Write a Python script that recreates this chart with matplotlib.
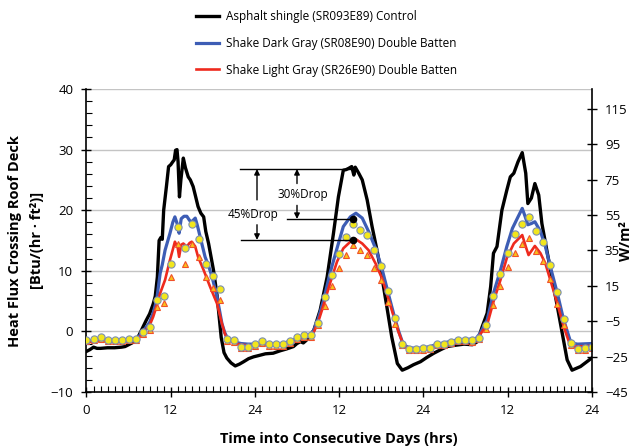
import matplotlib
matplotlib.use("Agg")
import matplotlib.pyplot as plt
from matplotlib.ticker import FixedLocator, FixedFormatter, MultipleLocator

plt.rcParams['font.family'] = ['Open Sans', 'DejaVu Sans']

# ---------------- data ----------------
series_labels = ["Asphalt shingle (SR093E89) Control",
                 "Shake Dark Gray (SR08E90) Double Batten",
                 "Shake Light Gray (SR26E90) Double Batten"]

black_t = [0, 0.5, 1, 1.5, 2, 3, 4, 5, 5.5, 6, 6.5, 7, 7.5, 8, 8.5, 9, 9.5, 9.8, 10.1, 10.35, 10.6, 10.8,
           11.0, 11.4, 11.7, 12.0, 12.3, 12.5, 12.7, 12.9, 13.05, 13.25, 13.45, 13.8, 14.1, 14.5, 14.8,
           15.2, 15.5, 15.9, 16.3, 16.7, 17.0, 17.4, 18.1, 18.6, 18.9, 19.2, 19.6, 20.0, 20.6, 21.2,
           21.8, 22.4, 23.1, 23.8, 24.5, 25.5, 26.6, 27.6, 28.5, 29.5, 30.0, 30.5, 30.9, 31.3, 31.9,
           32.4, 33.3, 34.3, 35.2, 35.9, 36.6, 37.0, 37.35, 37.8, 38.1, 38.3, 38.8, 39.3, 40.0, 40.7,
           41.4, 42.1, 42.8, 43.5, 44.3, 45.0, 45.8, 46.6, 47.6, 48.5, 49.5, 50.5, 51.4, 52.5, 53.8,
           55.0, 55.7, 56.4, 57.1, 57.6, 58.0, 58.5, 59.2, 59.9, 60.4, 60.9, 61.5, 62.1, 62.6, 62.9,
           63.4, 63.9, 64.45, 64.9, 65.6, 66.4, 67.1, 67.8, 68.5, 69.2, 70.4, 72.0]
black_v = [-3.3, -3.0, -2.6, -2.8, -2.8, -2.7, -2.7, -2.6, -2.5, -2.2, -1.9, -1.5, -0.6, 0.6, 1.8, 2.9,
           4.5, 5.8, 9.0, 15.0, 15.5, 15.2, 20.0, 24.0, 27.2, 27.5, 28.0, 28.3, 29.9, 30.0, 28.0, 22.2,
           25.0, 28.6, 27.0, 25.5, 25.0, 23.9, 22.5, 20.6, 19.5, 18.9, 16.5, 14.5, 10.1, 6.0, 2.5,
           -1.0, -3.5, -4.4, -5.2, -5.7, -5.4, -5.0, -4.5, -4.2, -4.0, -3.7, -3.6, -3.2, -2.9, -2.5,
           -2.0, -1.7, -1.9, -1.5, -0.6, 0.2, 3.5, 9.0, 16.2, 22.2, 26.6, 26.7, 26.9, 27.2, 25.8,
           27.1, 26.1, 25.0, 21.7, 17.3, 13.4, 9.0, 4.1, -0.9, -5.3, -6.4, -6.0, -5.5, -5.0, -4.3,
           -3.6, -3.0, -2.5, -2.3, -2.1, -2.2, -1.7, 0.8, 3.0, 7.4, 12.9, 14.0, 20.0, 23.3, 25.5,
           26.1, 28.0, 29.5, 26.1, 21.1, 22.0, 24.4, 22.5, 17.8, 13.4, 8.5, 4.1, -0.3, -4.7, -6.4,
           -5.8, -4.4]

blue_t = [0, 1, 2, 3, 4, 5, 6, 7, 7.5, 8, 8.5, 9, 9.5, 10, 10.5, 10.8, 11.2, 11.6, 11.9, 12.3, 12.6,
          13.0, 13.2, 13.5, 13.9, 14.3, 14.7, 15.0, 15.5, 15.8, 16.2, 16.9, 17.4, 17.9, 18.6, 19.0,
          19.3, 19.7, 20.0, 20.5, 21, 22, 23, 24, 25, 26, 27, 28, 29, 30, 31, 32, 32.4, 33, 33.8,
          34.7, 35.7, 36.6, 37.6, 38.4, 39.3, 40.2, 41.2, 42.1, 43.0, 44.0, 44.5, 45.0, 45.5, 46,
          47, 48, 49, 50, 51, 52, 53, 54, 55, 55.5, 56.1, 57.1, 58.0, 59.0, 59.9, 60.7, 61.5, 62.1,
          62.5, 62.9, 63.4, 63.9, 64.7, 65.4, 66.1, 67.1, 68.0, 68.9, 69.5, 70, 72]
blue_v = [-1.6, -1.5, -1.3, -1.5, -1.5, -1.5, -1.4, -1.2, -0.8, 0.0, 0.7, 1.5, 3.0, 5.2, 9.6, 11.0,
          13.4, 15.0, 16.2, 18.0, 18.9, 17.5, 16.2, 18.6, 19.0, 19.0, 18.3, 18.1, 18.7, 17.5, 15.6,
          12.3, 10.8, 9.0, 5.7, 3.2, 1.3, -0.2, -0.9, -1.4, -1.7, -2.0, -2.1, -2.1, -2.0, -2.0,
          -2.1, -2.0, -1.6, -1.2, -0.8, -0.5, 0.2, 2.0, 5.2, 9.6, 13.7, 17.3, 18.9, 19.5, 18.7,
          16.5, 13.7, 10.4, 6.3, 1.9, 0.0, -1.7, -2.4, -2.7, -2.8, -2.7, -2.5, -2.1, -1.9, -1.6,
          -1.4, -1.3, -1.3, -1.2, -0.3, 1.9, 6.3, 10.1, 14.0, 17.0, 18.9, 20.3, 19.0, 17.6, 17.8,
          18.1, 16.5, 14.0, 10.7, 6.3, 1.9, -1.4, -2.0, -2.1, -2.0]

red_t = [0, 1, 2, 3, 4, 5, 6, 7, 7.5, 8, 8.5, 9, 9.5, 10, 10.5, 11.2, 11.9, 12.3, 12.6, 13.0, 13.2,
         13.5, 13.8, 14.3, 14.7, 15.0, 15.5, 15.9, 16.7, 17.6, 18.6, 19.3, 19.7, 20.0, 20.5, 21, 22,
         23, 24, 25, 26, 27, 28, 29, 30, 31, 32, 32.4, 33, 33.8, 34.7, 35.7, 36.6, 37.6, 38.4, 39.3,
         40.2, 41.2, 42.1, 43.0, 44.0, 44.5, 45.0, 45.5, 46, 47, 48, 49, 50, 51, 52, 53, 54, 55,
         55.5, 56.1, 57.1, 58.0, 59.0, 59.9, 60.9, 62.1, 62.6, 63.0, 63.9, 64.7, 65.4, 66.1, 67.1,
         68.0, 68.9, 69.5, 72]
red_v = [-1.8, -1.7, -1.5, -1.7, -1.7, -1.7, -1.6, -1.4, -1.0, -0.4, 0.3, 1.0, 2.4, 4.2, 6.3, 8.5,
         11.8, 13.5, 14.8, 13.8, 12.3, 14.3, 14.5, 14.0, 14.6, 14.8, 14.0, 12.3, 10.1, 7.4, 4.6,
         1.3, -0.3, -1.2, -1.6, -1.9, -2.2, -2.3, -2.3, -2.2, -2.2, -2.3, -2.2, -1.8, -1.4, -1.0,
         -0.7, -0.1, 1.5, 4.4, 7.9, 11.5, 13.7, 14.8, 15.2, 14.5, 13.4, 11.2, 8.8, 5.5, 1.6, -0.2,
         -1.7, -2.6, -2.9, -3.0, -2.9, -2.7, -2.3, -2.1, -1.8, -1.6, -1.5, -1.5, -1.4, -0.5, 1.1,
         4.9, 8.5, 12.1, 14.5, 15.9, 14.0, 12.6, 14.1, 12.9, 11.2, 8.5, 4.6, 0.8, -2.2, -2.5, -2.4]

# hourly measured points
hours = list(range(0, 73))
circle_v = [-1.4, -1.3, -1.0, -1.4, -1.4, -1.4, -1.3, -1.3, -0.05, 0.7, 5.2, 5.8, 11.1, 17.3, 13.8,
            17.8, 15.2, 11.2, 9.2, 7.0, -1.3, -1.5, -2.6, -2.5, -2.1, -1.6, -2.1, -2.1, -2.1, -1.6,
            -1.0, -0.6, -0.6, 1.4, 5.7, 9.3, 12.8, 15.5, 17.7, 16.8, 15.9, 13.4, 10.8, 6.6, 2.2,
            -2.1, -2.9, -2.9, -2.8, -2.7, -2.1, -2.1, -1.7, -1.4, -1.4, -1.5, -1.1, 1.0, 5.8, 9.4,
            13.0, 16.1, 17.8, 18.9, 16.5, 14.7, 11.0, 6.5, 2.0, -1.9, -2.9, -2.8, -2.5]
triangle_v = [-1.6, -1.5, -1.3, -1.6, -1.6, -1.6, -1.5, -1.5, -0.4, 0.3, 4.1, 4.7, 9.0, 14.5, 11.2,
              14.5, 12.3, 9.0, 7.1, 5.2, -1.6, -1.8, -2.8, -2.7, -2.4, -1.9, -2.4, -2.4, -2.4, -1.9,
              -1.3, -0.9, -0.9, 1.0, 4.2, 7.5, 10.4, 12.6, 14.3, 13.5, 12.6, 10.4, 8.5, 4.9, 1.3,
              -2.3, -3.1, -3.1, -3.0, -2.9, -2.3, -2.3, -1.9, -1.6, -1.6, -1.7, -1.3, 0.35, 4.4, 7.5,
              10.7, 13.0, 14.4, 15.4, 13.3, 11.7, 8.6, 4.6, 1.1, -2.2, -3.1, -3.0, -2.7]

x_ticks = [0, 12, 24, 36, 48, 60, 72]
x_tick_labels = ["0", "12", "24", "12", "24", "12", "24"]
right_ticks = [-45, -25, -5, 15, 35, 55, 75, 95, 115]

# annotation values (day 2 peak drop)
ann_peak = 26.8
ann_drop30 = 18.55
ann_drop45 = 15.1
ann_hour = 38.0

# ---------------- figure ----------------
fig = plt.figure(figsize=(6.44, 4.46), dpi=100)
ax = fig.add_axes([0.1343, 0.1211, 0.9188 - 0.1343, 0.8004 - 0.1211])

c_black = "#000000"
c_blue = "#3d5db5"
c_red = "#ee2a1e"

for yv in [0, 10, 20, 30, 40]:
    ax.axhline(yv, color="#c4c4c4", lw=1.0, zorder=0)

l1, = ax.plot(black_t, black_v, color=c_black, lw=2.4, zorder=3, label=series_labels[0])
l2, = ax.plot(blue_t, blue_v, color=c_blue, lw=2.3, zorder=4, label=series_labels[1])
l3, = ax.plot(red_t, red_v, color=c_red, lw=1.9, zorder=5, label=series_labels[2])

ax.plot(hours, triangle_v, ls="none", marker="^", ms=4.6, mfc="#f9c21a", mec="#f0502a",
        mew=0.8, zorder=6)
ax.plot(hours, circle_v, ls="none", marker="o", ms=5.2, mfc="#f2e61c", mec="#7d8fb0",
        mew=0.8, zorder=7)

# annotation
ax.plot([21.9, 37.6], [ann_peak, ann_peak], color="black", lw=1.0, zorder=8)
ax.plot([28.6, ann_hour], [ann_drop30, ann_drop30], color="black", lw=1.0, zorder=8)
ax.plot([22.0, ann_hour], [ann_drop45, ann_drop45], color="black", lw=1.0, zorder=8)
ax.plot([ann_hour, ann_hour], [ann_drop30, ann_drop45], ls="none", marker="o", ms=4.5,
        color="black", zorder=9)
ap = dict(arrowstyle="-|>", lw=1.0, color="black", mutation_scale=8, shrinkA=0, shrinkB=0)
ax.annotate("", xy=(24.3, ann_peak), xytext=(24.3, 21.7), arrowprops=ap, zorder=8)
ax.annotate("", xy=(24.3, ann_drop45), xytext=(24.3, 17.6), arrowprops=ap, zorder=8)
ax.annotate("", xy=(30.0, ann_peak), xytext=(30.0, 24.4), arrowprops=ap, zorder=8)
ax.annotate("", xy=(30.0, ann_drop30), xytext=(30.0, 20.8), arrowprops=ap, zorder=8)
ax.text(23.8, 19.3, "45%Drop", ha="center", va="center", fontsize=8.5, zorder=9)
ax.text(30.9, 22.6, "30%Drop", ha="center", va="center", fontsize=8.5, zorder=9)

# axes formatting
ax.set_xlim(0, 72)
ax.set_ylim(-10, 40)
ax.xaxis.set_major_locator(FixedLocator(x_ticks))
ax.xaxis.set_major_formatter(FixedFormatter(x_tick_labels))
ax.xaxis.set_minor_locator(MultipleLocator(1))
ax.yaxis.set_major_locator(MultipleLocator(10))
ax.yaxis.set_minor_locator(MultipleLocator(2))
ax.tick_params(axis="x", which="major", direction="inout", length=7, width=1, labelsize=9.5, pad=5)
ax.tick_params(axis="x", which="minor", direction="in", length=4, width=0.8)
ax.tick_params(axis="y", which="major", direction="inout", length=7, width=1, labelsize=9.5, pad=6)
ax.tick_params(axis="y", which="minor", direction="in", length=4, width=0.8)
ax.spines["top"].set_visible(False)
ax.spines["right"].set_visible(False)
for s in ["left", "bottom"]:
    ax.spines[s].set_linewidth(1.2)

ax2 = ax.twinx()
ax2.set_ylim(-45, 126.3)
ax2.yaxis.set_major_locator(FixedLocator(right_ticks))
ax2.tick_params(axis="y", which="major", direction="inout", length=7, width=1, labelsize=9.5, pad=6)
ax2.spines["top"].set_visible(False)
ax2.spines["left"].set_visible(False)
ax2.spines["bottom"].set_visible(False)
ax2.spines["right"].set_linewidth(1.2)

ax.set_xlabel("Time into Consecutive Days (hrs)", fontsize=10.5, fontweight="bold", labelpad=11)
fig.text(0.024, 0.46, "Heat Flux Crossing Roof Deck", rotation=90, ha="center", va="center",
         fontsize=10.5, fontweight="bold")
fig.text(0.057, 0.46, "[Btu/(hr · ft²)]", rotation=90, ha="center", va="center",
         fontsize=10.5, fontweight="bold")
fig.text(0.972, 0.46, "W/m²", rotation=90, ha="center", va="center",
         fontsize=10.5, fontweight="bold")

fig.legend(handles=[l1, l2, l3], loc="upper left", bbox_to_anchor=(0.30, 0.982),
           frameon=False, fontsize=8.5, handlelength=2.0, handletextpad=0.6,
           labelspacing=1.15, borderpad=0.2, borderaxespad=0)

fig.savefig("out.png", dpi=100)
